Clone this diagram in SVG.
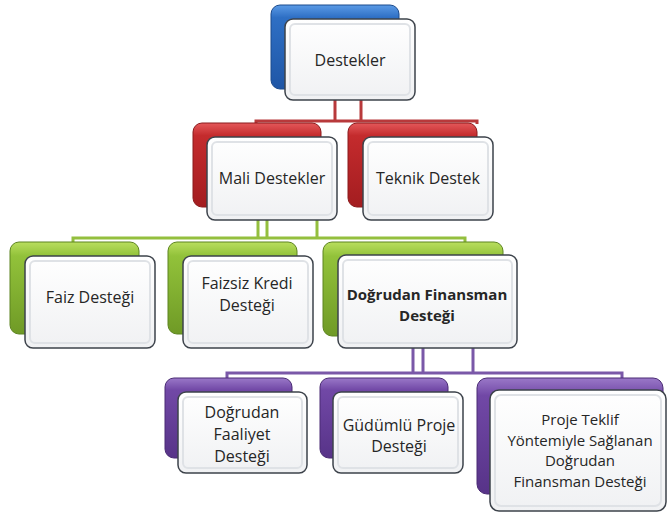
<svg xmlns="http://www.w3.org/2000/svg" width="669" height="516" viewBox="0 0 669 516">
<defs>
<linearGradient id="gBlue" x1="0" y1="0" x2="0" y2="1"><stop offset="0" stop-color="#5b9be6"/><stop offset="0.15" stop-color="#2e6fc4"/><stop offset="1" stop-color="#1f56a6"/></linearGradient>
<linearGradient id="gRed" x1="0" y1="0" x2="0" y2="1"><stop offset="0" stop-color="#e4585a"/><stop offset="0.15" stop-color="#c42b2d"/><stop offset="1" stop-color="#a31d20"/></linearGradient>
<linearGradient id="gGreen" x1="0" y1="0" x2="0" y2="1"><stop offset="0" stop-color="#b9de5e"/><stop offset="0.15" stop-color="#92c23a"/><stop offset="1" stop-color="#6f9a26"/></linearGradient>
<linearGradient id="gPurple" x1="0" y1="0" x2="0" y2="1"><stop offset="0" stop-color="#9a78c8"/><stop offset="0.15" stop-color="#7148a6"/><stop offset="1" stop-color="#573388"/></linearGradient>
<linearGradient id="gWhite" x1="0" y1="0" x2="0" y2="1"><stop offset="0" stop-color="#ffffff"/><stop offset="1" stop-color="#f0f1f3"/></linearGradient>
</defs>
<style>
.front{fill:url(#gWhite);stroke:#3d434b;stroke-width:1.5}
.inner{fill:none;stroke:#dfe2e6;stroke-width:2}
.bblue{fill:url(#gBlue);stroke:#1b4a8c;stroke-width:1}
.bred{fill:url(#gRed);stroke:#8a1a1c;stroke-width:1}
.bgreen{fill:url(#gGreen);stroke:#5d8420;stroke-width:1}
.bpurple{fill:url(#gPurple);stroke:#4a2b74;stroke-width:1}
.t{font-family:"Open Sans","Noto Sans","Liberation Sans",sans-serif;font-size:16px;fill:#262626;text-anchor:middle}
.tb{font-weight:bold;font-size:15px}
.tp{font-size:15px}
.cr{stroke:#b8393b;stroke-width:3;fill:none}
.cg{stroke:#94bf3e;stroke-width:3;fill:none}
.cp{stroke:#7a58a8;stroke-width:3;fill:none}
</style>
<g id="connectors">
<path class="cr" d="M335 100V121M361 100V121M256 124V121H477V124"/>
<path class="cg" d="M258 220V238M267 220V238M317 220V238M73 242V238H465V242"/>
<path class="cp" d="M413 348V373M423 348V373M473 348V373M227 378V373H622V378"/>
</g>
<g id="n-destekler">
<rect class="bblue" x="271" y="5" width="128" height="84" rx="9"/>
<rect class="front" x="285" y="19" width="130" height="81" rx="8"/>
<rect class="inner" x="290" y="24" width="120" height="71" rx="5"/>
<text class="t" x="350" y="66">Destekler</text>
</g>
<g id="n-mali">
<rect class="bred" x="193" y="123" width="128" height="84" rx="9"/>
<rect class="front" x="207" y="137" width="130" height="83" rx="8"/>
<rect class="inner" x="212" y="142" width="120" height="73" rx="5"/>
<text class="t" x="272" y="184">Mali Destekler</text>
</g>
<g id="n-teknik">
<rect class="bred" x="348" y="123" width="129" height="84" rx="9"/>
<rect class="front" x="363" y="137" width="130" height="83" rx="8"/>
<rect class="inner" x="368" y="142" width="120" height="73" rx="5"/>
<text class="t" x="428" y="184">Teknik Destek</text>
</g>
<g id="n-faiz">
<rect class="bgreen" x="10" y="242" width="129" height="92" rx="9"/>
<rect class="front" x="25" y="256" width="130" height="92" rx="8"/>
<rect class="inner" x="30" y="261" width="120" height="82" rx="5"/>
<text class="t" x="90" y="303">Faiz Desteği</text>
</g>
<g id="n-faizsiz">
<rect class="bgreen" x="168" y="242" width="129" height="92" rx="9"/>
<rect class="front" x="183" y="256" width="130" height="92" rx="8"/>
<rect class="inner" x="188" y="261" width="120" height="82" rx="5"/>
<text class="t" x="247" y="289">Faizsiz Kredi</text>
<text class="t" x="247" y="311">Desteği</text>
</g>
<g id="n-dogrudan">
<rect class="bgreen" x="323" y="242" width="180" height="94" rx="9"/>
<rect class="front" x="338" y="255" width="179" height="93" rx="8"/>
<rect class="inner" x="343" y="260" width="169" height="83" rx="5"/>
<text class="t tb" x="427" y="300">Doğrudan Finansman</text>
<text class="t tb" x="427" y="321">Desteği</text>
</g>
<g id="n-faaliyet">
<rect class="bpurple" x="165" y="378" width="127" height="80" rx="9"/>
<rect class="front" x="178" y="392" width="129" height="81" rx="8"/>
<rect class="inner" x="183" y="397" width="119" height="71" rx="5"/>
<text class="t" x="242" y="418">Doğrudan</text>
<text class="t" x="242" y="440">Faaliyet</text>
<text class="t" x="242" y="462">Desteği</text>
</g>
<g id="n-gudumlu">
<rect class="bpurple" x="320" y="378" width="128" height="80" rx="9"/>
<rect class="front" x="333" y="392" width="130" height="81" rx="8"/>
<rect class="inner" x="338" y="397" width="120" height="71" rx="5"/>
<text class="t" x="399" y="431">Güdümlü Proje</text>
<text class="t" x="399" y="452">Desteği</text>
</g>
<g id="n-proje">
<rect class="bpurple" x="477" y="378" width="186" height="116" rx="10"/>
<rect class="front" x="490" y="390" width="176" height="121" rx="9"/>
<rect class="inner" x="495" y="395" width="166" height="111" rx="6"/>
<text class="t tp" x="580" y="425">Proje Teklif</text>
<text class="t tp" x="580" y="445.5">Yöntemiyle Sağlanan</text>
<text class="t tp" x="580" y="466">Doğrudan</text>
<text class="t tp" x="580" y="486.5">Finansman Desteği</text>
</g>
</svg>
